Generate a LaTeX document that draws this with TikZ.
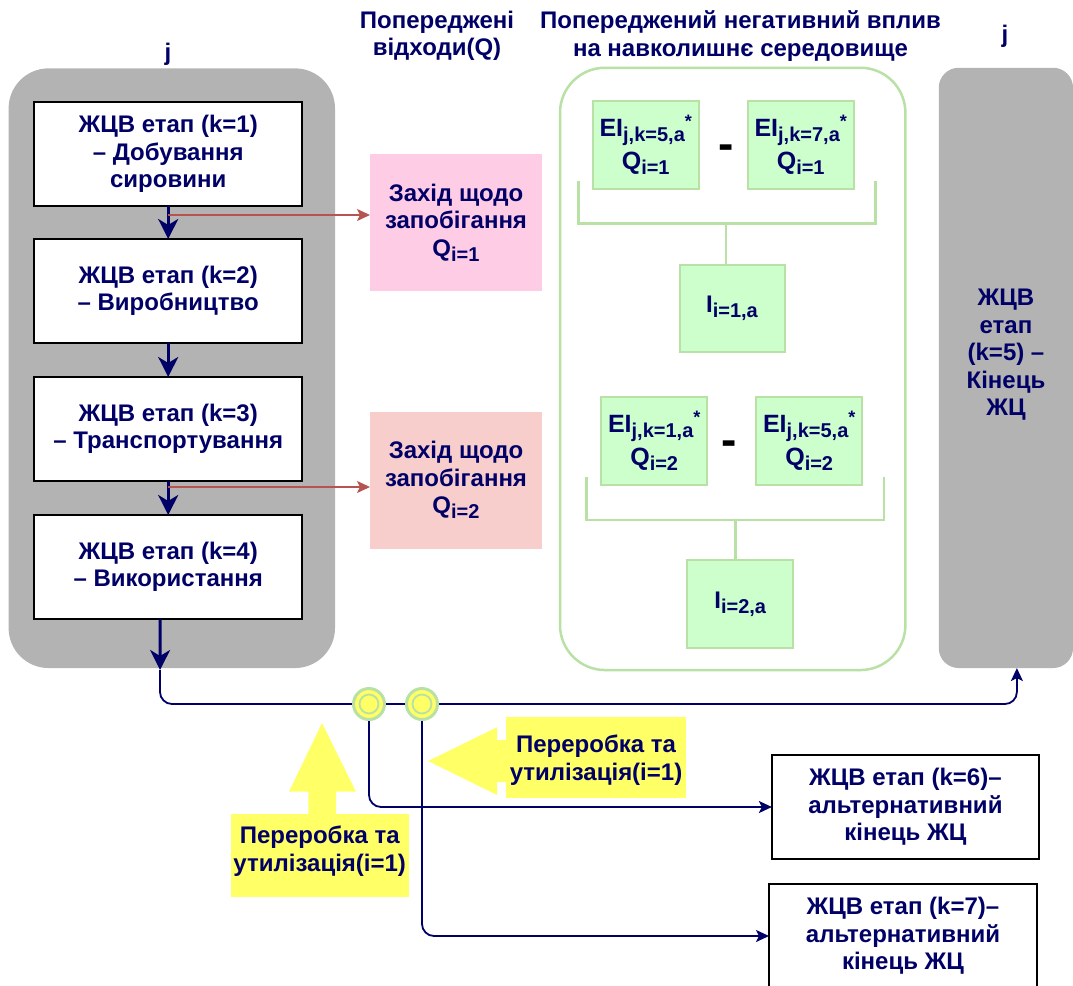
\documentclass[tikz,border=0pt]{standalone}
\usepackage{fontspec}
\setmainfont{Liberation Sans}
\usetikzlibrary{arrows.meta}
\pgfdeclarelayer{wires}
\pgfsetlayers{wires,main}

\definecolor{navy}{HTML}{000066}
\definecolor{lanegray}{HTML}{B3B3B3}
\definecolor{pinkA}{HTML}{FFCCE6}
\definecolor{pinkB}{HTML}{F8CECC}
\definecolor{mint}{HTML}{CCFFCC}
\definecolor{leaf}{HTML}{B9E0A5}
\definecolor{lemon}{HTML}{FFFF66}
\definecolor{brick}{HTML}{B85450}

\newcommand\labfont{\fontsize{24}{27.5}\selectfont\bfseries}
\newcommand\bigfont{\fontsize{25}{28}\selectfont\bfseries}
\newcommand\lowsub[1]{\raisebox{-5pt}{\fontsize{20}{20}\selectfont #1}}
\newcommand\starup{\raisebox{9pt}{\fontsize{18}{18}\selectfont *}}

\begin{document}
\begin{tikzpicture}[x=1pt,y=-1pt,
  every node/.style={inner sep=0pt,outer sep=0pt},
  hdr/.style={text=navy,font=\labfont,align=center},
  stagebox/.style={draw=black,line width=1.5pt,fill=white,minimum width=268pt,
    minimum height=104pt,align=center,text=navy,font=\labfont},
  pinkbox/.style={minimum width=172pt,minimum height=137pt,align=center,
    text=navy,font=\labfont},
  eibox/.style={draw=leaf,line width=2pt,fill=mint,minimum width=106pt,
    minimum height=88pt,align=center,text=navy,font=\bigfont},
  minus/.style={font=\fontsize{46}{46}\selectfont\bfseries,text=black},
  flow/.style={draw=navy,line width=3pt,-{Stealth[length=20pt,width=20pt,inset=6pt]}},
  route/.style={draw=navy,line width=1.8pt,rounded corners=12pt},
  tip/.style={-{Stealth[length=13pt,width=12pt,inset=3pt]}},
  redline/.style={draw=brick,line width=1.5pt,-{Stealth[length=13pt,width=12pt,inset=3pt]}},
  bracket/.style={draw=leaf,line width=2.5pt},
  hub/.style={circle,draw=leaf,line width=3pt,fill=lemon,minimum size=31pt}]

\useasboundingbox (0,0) rectangle (1073,985);

% swimlanes and the impact container
\node[fill=lanegray,rounded corners=40pt,minimum width=326.4pt,minimum height=599.7pt] (lane) at (171.8,368.2) {};
\node[fill=lanegray,rounded corners=20pt,minimum width=134.3pt,minimum height=600.3pt] (k5) at (1005.9,367.9) {};
\node[hdr] (k5text) at (1006,355) {ЖЦВ\\етап\\(k=5) –\\Кінець\\ЖЦ};
\node[draw=leaf,line width=2.5pt,rounded corners=45pt,minimum width=345.4pt,minimum height=602.3pt] (impact) at (732.7,368.9) {};

% headings
\node[hdr,anchor=base] (jleft) at (168,60) {j};
\node[hdr,anchor=base] (jright) at (1005,42) {j};
\node[hdr] (hwaste) at (437,36) {Попереджені\\відходи(Q)};
\node[hdr] (himpact) at (740.5,36) {Попереджений негативний вплив\\на навколишнє середовище};

% life-cycle stages
\node[stagebox] (k1) at (168.2,154) {ЖЦВ етап (k=1)\\– Добування\\сировини};
\node[stagebox] (k2) at (168.2,291) {ЖЦВ етап (k=2)\\– Виробництво};
\node[stagebox] (k3) at (168.2,429) {ЖЦВ етап (k=3)\\– Транспортування};
\node[stagebox] (k4) at (168.2,567) {ЖЦВ етап (k=4)\\– Використання};

\draw[flow] (k1) -- (k2);
\draw[flow] (k2) -- (k3);
\draw[flow] (k3) -- (k4);
\coordinate (drop) at (160,670);
\draw[flow] ([xshift=-8pt]k4.south) -- (drop);

% prevention measures
\node[pinkbox,fill=pinkA] (p1) at (456,222.5) {Захід щодо\\запобігання\\Q\lowsub{i=1}};
\node[pinkbox,fill=pinkB] (p2) at (456,480) {Захід щодо\\запобігання\\Q\lowsub{i=2}};
\draw[redline] ([yshift=-9pt]k1.south) -- ([yshift=-9pt]k1.south -| p1.west);
\draw[redline] ([yshift=-6pt]k3.south) -- ([yshift=-6pt]k3.south -| p2.west);

% avoided impacts
\node[eibox] (e1) at (645.7,145) {EI\lowsub{j,k=5,a}\starup\\[5pt]Q\lowsub{i=1}};
\node[eibox] (e2) at (800.7,145) {EI\lowsub{j,k=7,a}\starup\\[5pt]Q\lowsub{i=1}};
\node[minus] (m1) at (726,152) {-};
\draw[bracket] (578.4,181) -- (578.4,223.3) -- (875.5,223.3) -- (875.5,181);
\node[eibox,font=\labfont,minimum width=105pt,minimum height=87pt] (i1) at (732,308.3) {I\lowsub{i=1,a}};
\coordinate (b1) at (726,223.3);
\draw[bracket] (b1) -- (b1 |- i1.north);

\node[eibox] (e3) at (654.2,440.9) {EI\lowsub{j,k=1,a}\starup\\[5pt]Q\lowsub{i=2}};
\node[eibox] (e4) at (809.2,440.9) {EI\lowsub{j,k=5,a}\starup\\[5pt]Q\lowsub{i=2}};
\node[minus] (m2) at (729,448) {-};
\draw[bracket] (586.6,476.7) -- (586.6,520) -- (884,520) -- (884,476.7);
\node[eibox,font=\labfont,minimum width=106pt,minimum height=88pt] (i2) at (740.2,604.2) {I\lowsub{i=2,a}};
\coordinate (b2) at (735.4,520);
\draw[bracket] (b2) -- (b2 |- i2.north);

% alternative end-of-life stages
\node[stagebox,minimum width=267pt] (k6) at (905.4,807) {ЖЦВ етап (k=6)–\\альтернативний\\кінець ЖЦ};
\node[stagebox,minimum width=268pt] (k7) at (903,936) {ЖЦВ етап (k=7)–\\альтернативний\\кінець ЖЦ};

% recycling hubs and routing
\node[hub] (c1) at (369,704) {};
\node[hub] (c2) at (422,704) {};
\draw[leaf,line width=1.8pt] (c1.center) circle (9.5pt);
\draw[leaf,line width=1.8pt] (c2.center) circle (9.5pt);

\begin{pgfonlayer}{wires}
\draw[route] (drop) |- (c1.west);
\draw[route] (c1.east) -- (c2.west);
\draw[route,tip] (c2.east) -| ([xshift=11pt]k5.south);
\draw[route,tip] (c1.south) |- (k6.west);
\draw[route,tip] (c2.south) |- (k7.west);
\end{pgfonlayer}

% recycling callouts
\fill[lemon] (322,723) -- (356,791.7) -- (336,791.7) -- (336,814) -- (308.4,814)
  -- (308.4,791.7) -- (289,791.7) -- cycle;
\fill[lemon] (230.6,814) rectangle (408.8,897);
\node[hdr] (r1) at (319.7,851) {Переробка та\\утилізація(i=1)};

\fill[lemon] (428,761) -- (497,727.3) -- (497,740) -- (507,740) -- (507,782)
  -- (497,782) -- (497,795) -- cycle;
\fill[lemon] (506,717) rectangle (685.5,798);
\node[hdr] (r2) at (596,760) {Переробка та\\утилізація(i=1)};

\end{tikzpicture}
\end{document}
